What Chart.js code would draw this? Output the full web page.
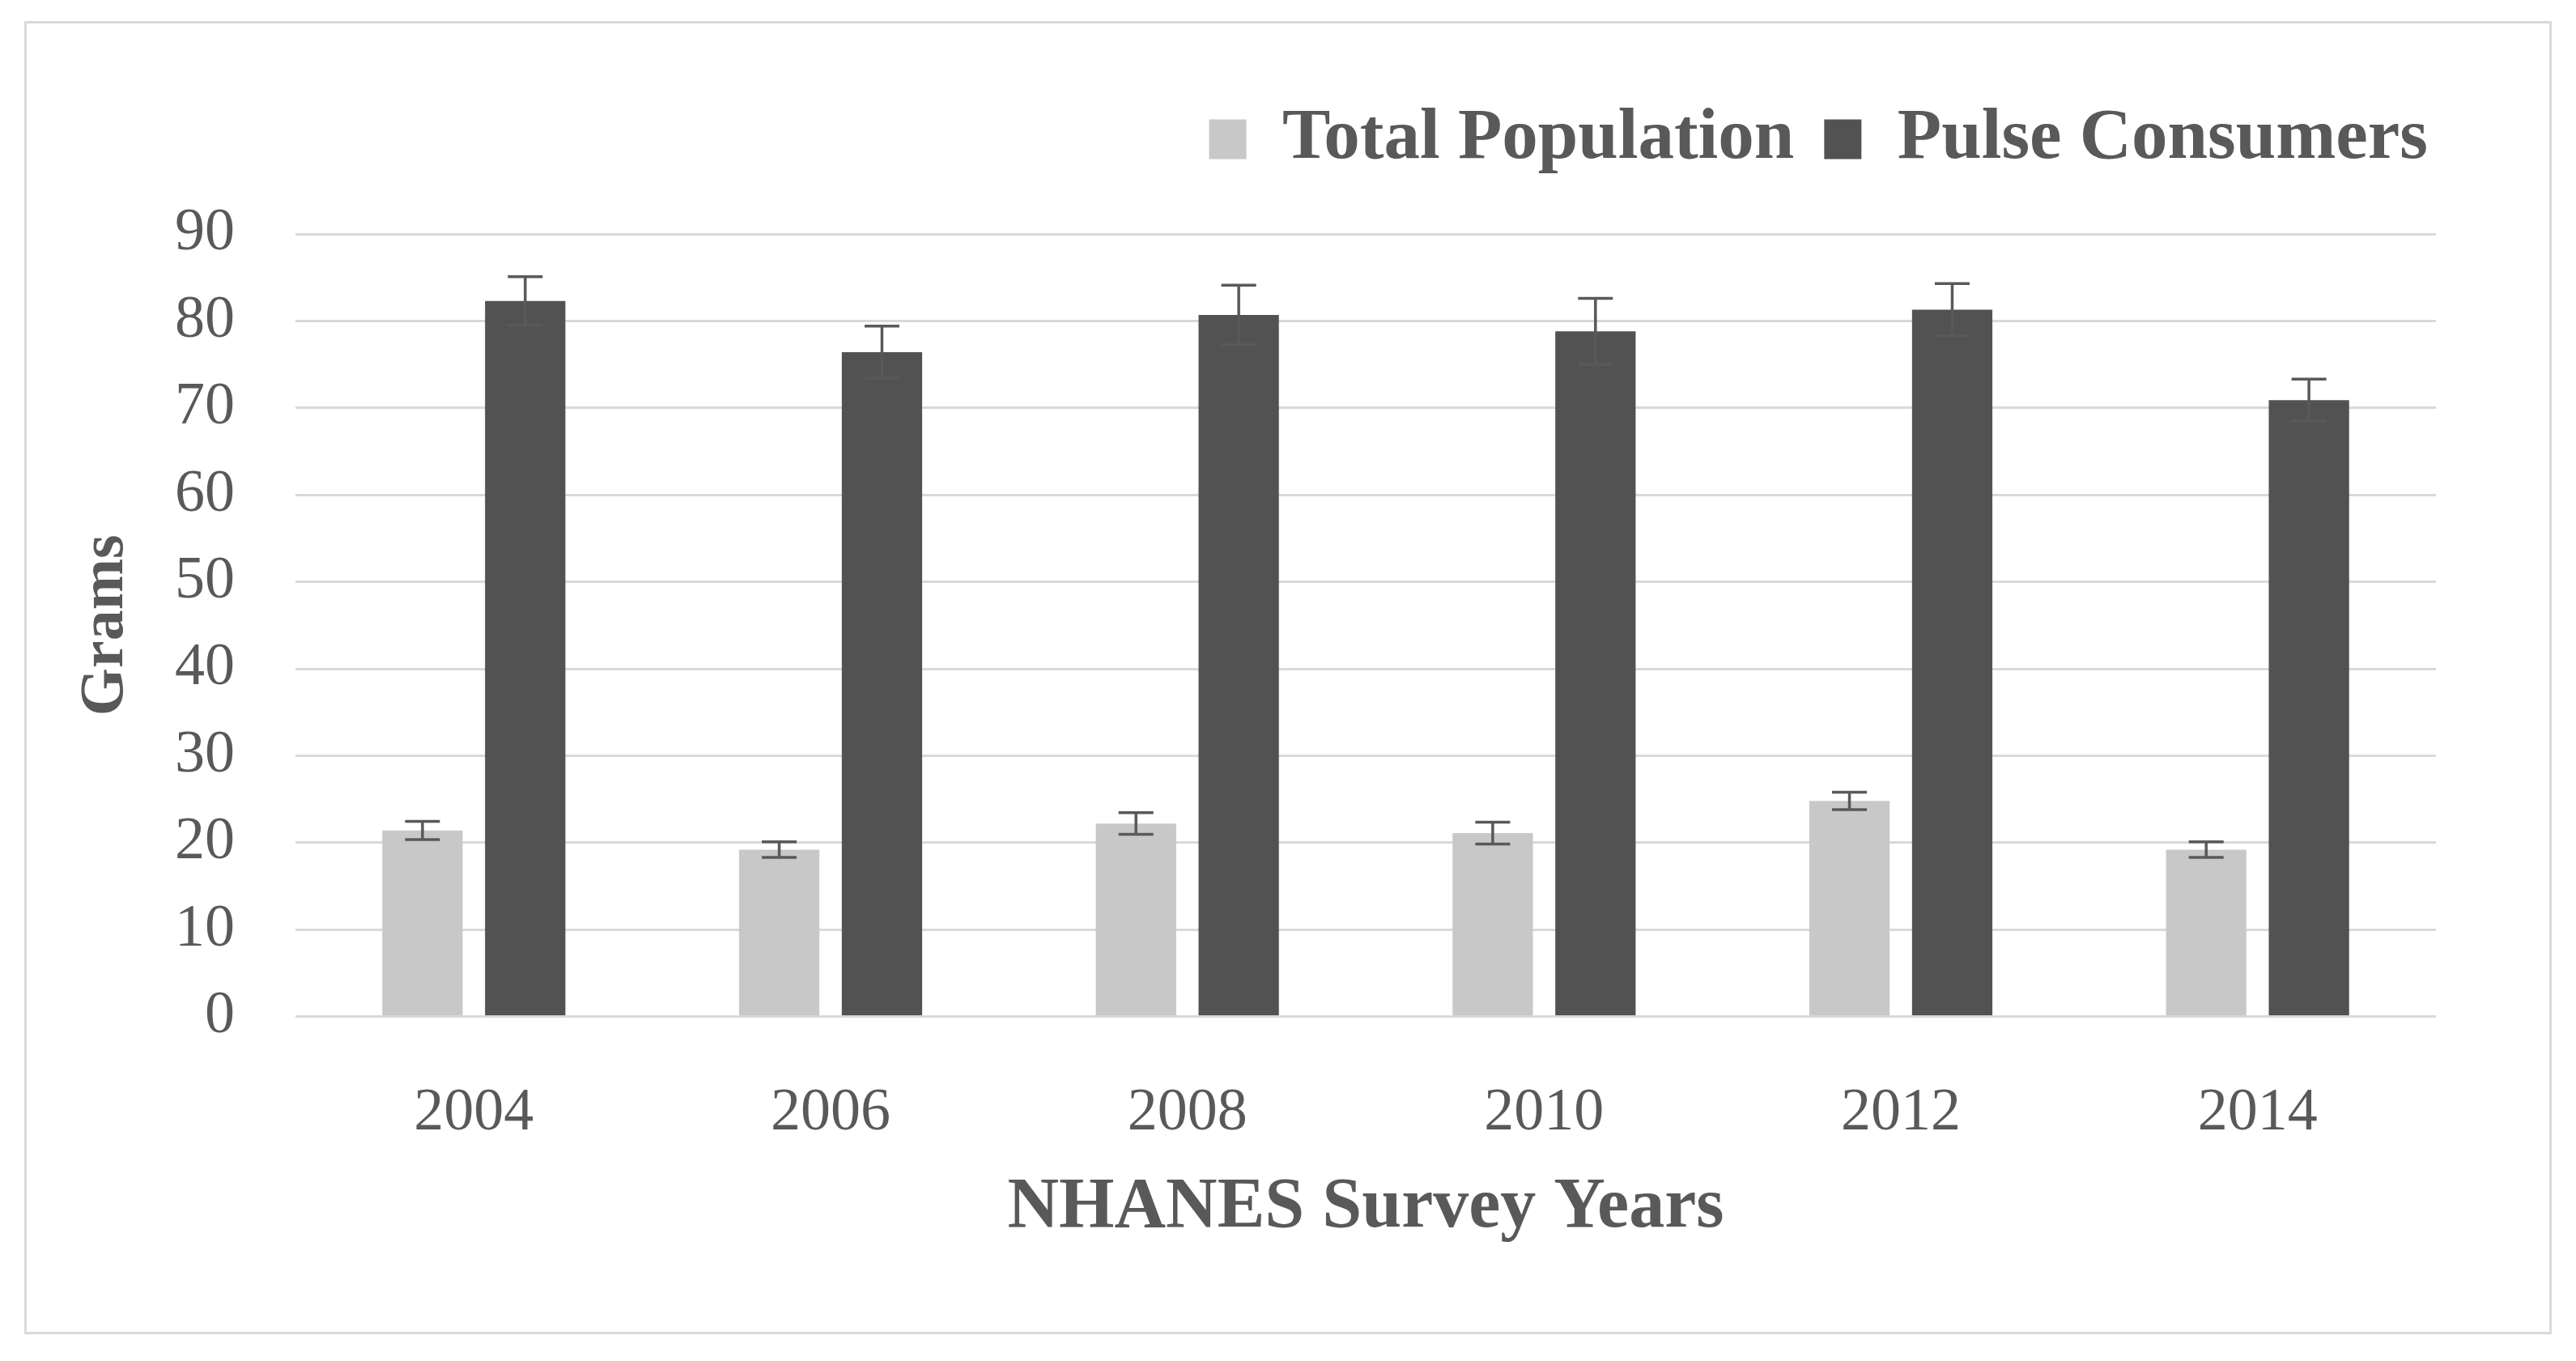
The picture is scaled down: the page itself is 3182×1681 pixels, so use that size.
<!DOCTYPE html>
<html>
<head>
<meta charset="utf-8">
<script src="https://cdn.jsdelivr.net/npm/chart.js@4.4.1/dist/chart.umd.min.js"></script>
<style>
  html, body { margin: 0; padding: 0; background: #ffffff; }
  #wrap { position: relative; width: 3182px; height: 1681px; background: #ffffff; }
  #frame { position: absolute; left: 30px; top: 26px; width: 3122px; height: 1622px;
           box-sizing: border-box; border: 3px solid #d9d9d9; pointer-events: none; }
  canvas { position: absolute; left: 0; top: 0; }
</style>
</head>
<body>
<div id="wrap">
  <canvas id="c" width="3182" height="1681"></canvas>
  <div id="frame"></div>
</div>
<script>
// ---- data ----
const years = ['2004', '2006', '2008', '2010', '2012', '2014'];
const totalPopulation = [21.4, 19.2, 22.2, 21.1, 24.8, 19.2];
const totalPopulationErr = [1.05, 0.9, 1.25, 1.25, 1.0, 0.9];
const pulseConsumers = [82.3, 76.4, 80.7, 78.8, 81.3, 70.9];
const pulseConsumersErr = [2.8, 3.0, 3.4, 3.8, 3.0, 2.4];
const yTicks = [0, 10, 20, 30, 40, 50, 60, 70, 80, 90];

const TEXT = '#595959';
const FONT = "'Liberation Serif', 'Times New Roman', serif";

const errorBars = {
  id: 'errorBars',
  afterDatasetsDraw(chart) {
    const ctx = chart.ctx;
    const ys = chart.scales.y;
    ctx.save();
    ctx.strokeStyle = '#595959';
    ctx.lineWidth = 3.5;
    chart.data.datasets.forEach((ds, i) => {
      const meta = chart.getDatasetMeta(i);
      meta.data.forEach((el, j) => {
        const v = ds.data[j], e = ds.errors[j];
        const x = el.x;
        const yH = ys.getPixelForValue(v + e);
        const yL = ys.getPixelForValue(v - e);
        const cap = 21.5;
        ctx.beginPath();
        ctx.moveTo(x, yH); ctx.lineTo(x, yL);
        ctx.moveTo(x - cap, yH); ctx.lineTo(x + cap, yH);
        ctx.moveTo(x - cap, yL); ctx.lineTo(x + cap, yL);
        ctx.stroke();
      });
    });
    ctx.restore();
  }
};

new Chart(document.getElementById('c'), {
  type: 'bar',
  data: {
    labels: years,
    datasets: [
      { label: 'Total Population', data: totalPopulation, errors: totalPopulationErr,
        backgroundColor: '#c8c8c8', borderWidth: 0,
        categoryPercentage: 0.576, barPercentage: 0.782 },
      { label: 'Pulse Consumers', data: pulseConsumers, errors: pulseConsumersErr,
        backgroundColor: '#525252', borderWidth: 0,
        categoryPercentage: 0.576, barPercentage: 0.782 }
    ]
  },
  options: {
    responsive: false,
    devicePixelRatio: 1,
    animation: false,
    layout: { padding: { left: 40, right: 146, top: 90.5, bottom: 80 } },
    plugins: {
      tooltip: { enabled: false },
      legend: {
        display: true,
        position: 'top',
        align: 'end',
        labels: {
          color: TEXT,
          font: { family: FONT, size: 89, weight: 'bold' },
          boxWidth: 46,
          boxHeight: 49,
          padding: 37
        }
      },
      title: {
        display: true,
        text: ' ',
        weight: 500,
        font: { size: 10 },
        padding: { top: 0, bottom: 50.5 }
      }
    },
    scales: {
      x: {
        grid: { display: false },
        border: { display: false },
        ticks: { color: TEXT, font: { family: FONT, size: 74 }, padding: 68, maxRotation: 0 },
        title: { display: true, text: 'NHANES Survey Years', color: TEXT,
                 font: { family: FONT, size: 88, weight: 'bold' },
                 padding: { top: 0, bottom: 56 } },
        afterFit: s => { s.height = 345.4; }
      },
      y: {
        min: 0, max: 90,
        afterBuildTicks: s => { s.ticks = yTicks.map(v => ({ value: v })); },
        grid: { color: '#d9d9d9', lineWidth: 3, drawTicks: false },
        border: { display: false },
        ticks: { color: TEXT, font: { family: FONT, size: 74 }, padding: 75 },
        title: { display: true, text: 'Grams', color: TEXT,
                 font: { family: FONT, size: 76, weight: 'bold' },
                 padding: { top: 46, bottom: 0 } },
        afterFit: s => { s.width = 325; }
      },
      yR: {
        type: 'linear', position: 'right', display: true,
        grid: { display: false }, border: { display: false },
        ticks: { display: false },
        afterFit: s => { s.width = 27; }
      }
    }
  },
  plugins: [errorBars]
});
</script>
</body>
</html>
